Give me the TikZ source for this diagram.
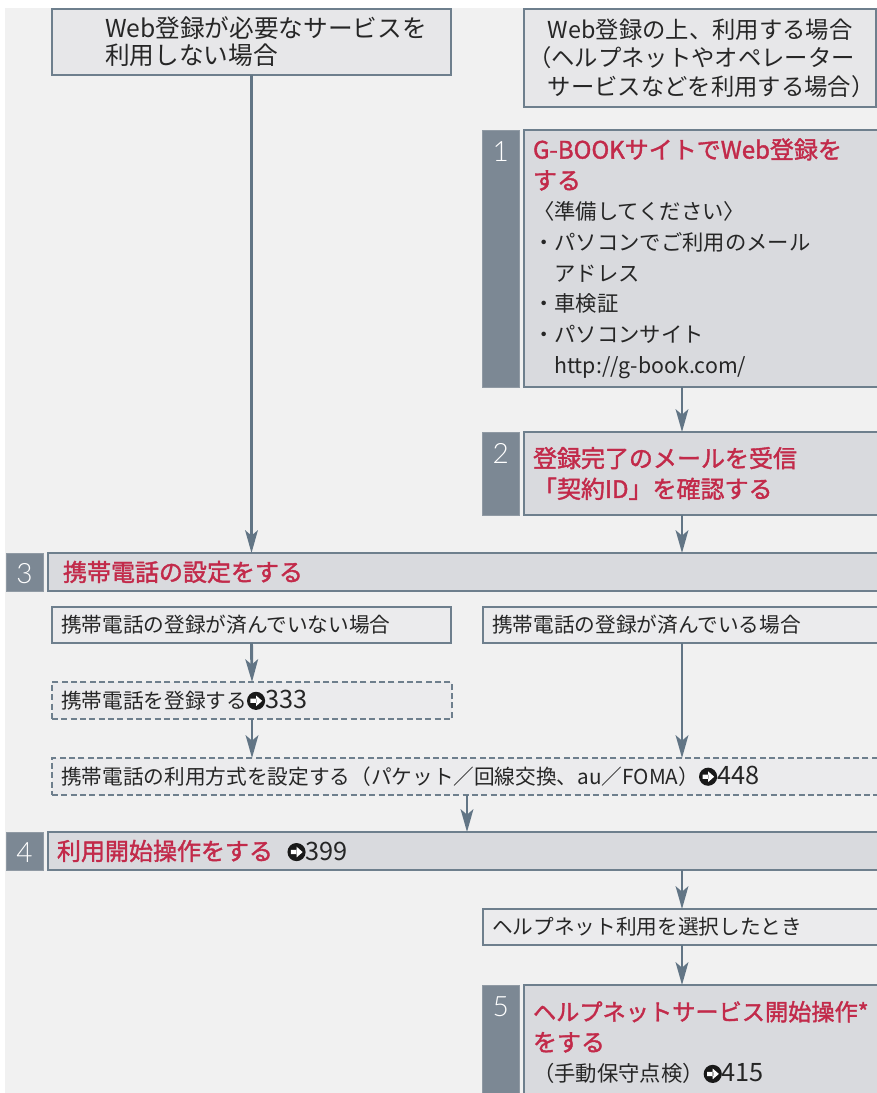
\documentclass[tikz,border=0pt]{standalone}
\usepackage{fontspec}
\setmainfont{Noto Sans CJK JP}
\newfontfamily\headfont{Noto Sans CJK JP}[FakeBold=1.6]
\newfontfamily\numfont{Lato}[UprightFont={* Light}]
\usetikzlibrary{arrows.meta, positioning}

\definecolor{pagebg}{HTML}{F1F1F1}
\definecolor{hdrfill}{HTML}{E7E7E9}
\definecolor{stepfill}{HTML}{D9DADE}
\definecolor{casefill}{HTML}{EBEBED}
\definecolor{edgecol}{HTML}{6E7F8D}
\definecolor{tabcol}{HTML}{7C8894}
\definecolor{arrcol}{HTML}{627585}
\definecolor{headred}{HTML}{C22A4A}

% page reference: black disc with a white arrow, then the page number
\newcommand{\refmark}{\tikz[baseline={(0,-6pt)}, x=1pt, y=1pt]{%
  \fill[black!90] (0,0) circle (6.8pt);
  \fill[white] (-4.2,-1.6) rectangle (0.4,1.6) (0,-4) -- (4.6,0) -- (0,4) -- cycle;}}
\newcommand{\seepage}[1]{\refmark{\fontsize{19}{19}\selectfont #1}}
\newcommand{\stephead}[1]{{\color{headred}\headfont\fontsize{18}{23}\selectfont #1}}

\begin{document}
\begin{tikzpicture}[x=0.75pt, y=-0.75pt,
    every node/.style={inner sep=0pt, outer sep=0pt, text=black!85},
    hdrbox/.style={draw=edgecol, fill=hdrfill, line width=1.2pt, anchor=north west, align=left},
    stepbox/.style={draw=edgecol, fill=stepfill, line width=1.2pt, anchor=north west, align=left,
                    inner xsep=6.75pt, font=\fontsize{16}{23}\selectfont},
    casebox/.style={draw=edgecol, fill=casefill, line width=1.2pt, anchor=north west, align=left,
                    inner xsep=6.75pt, minimum height=27pt, font=\fontsize{15.5}{18}\selectfont},
    dashbox/.style={casebox, line width=1.4pt, dash pattern=on 4.5pt off 2.5pt, minimum height=27.75pt},
    numtab/.style={fill=tabcol, draw=tabcol!85!white, line width=0.6pt, anchor=north west, minimum width=28pt},
    numtxt/.style={text=white, anchor=base, font=\numfont\fontsize{21}{21}\selectfont},
    arr/.style={draw=arrcol, line width=2.2pt, -{Stealth[length=17pt, width=9.5pt, inset=4pt]}}
]
\useasboundingbox (0,0) rectangle (877,1093);
\clip (0,0) rectangle (877,1093);
\fill[pagebg] (5,8) rectangle (877,1093);

% two starting cases
\node[hdrbox, minimum width=299.25pt, minimum height=49.5pt, inner xsep=39.75pt, text width=219.75pt,
      font=\fontsize{18.5}{20.25}\selectfont] (hdrL) at (52,9)
      {Web登録が必要なサービスを\\利用しない場合};
\node[hdrbox, minimum height=73.5pt, inner xsep=3pt, text width=258pt,
      font=\fontsize{17.5}{21.4}\selectfont] (hdrR) at (524,9)
      {\hspace*{0.85em}Web登録の上、利用する場合\\（ヘルプネットやオペレーター\\\hspace*{0.85em}サービスなどを利用する場合）};

% step 1
\node[numtab, minimum height=192.75pt] (t1) at (482,130) {};
\node[numtxt] (n1) at ([yshift=-23.25pt]t1.north) {1};
\node[stepbox, minimum height=192.75pt, text width=257.25pt] (s1) at (524,130)
      {\stephead{G-BOOKサイトでWeb登録を}\\\stephead{する}\\〈準備してください〉\\・パソコンでご利用のメール\\
       \hspace*{1em}アドレス\\・車検証\\・パソコンサイト\\\hspace*{1em}http://g-book.com/};

% step 2
\node[numtab, minimum height=62.25pt] (t2) at (482,432) {};
\node[numtxt] (n2) at ([yshift=-23.25pt]t2.north) {2};
\node[stepbox, minimum height=62.25pt, text width=257.25pt] (s2) at (524,432)
      {\stephead{登録完了のメールを受信}\\\stephead{「契約ID」を確認する}};

% step 3
\node[numtab, minimum width=27.75pt, minimum height=28.5pt] (t3) at (6,553) {};
\node[numtxt] (n3) at ([yshift=-22.5pt]t3.north) {3};
\node[stepbox, minimum height=28.5pt, inner xsep=11.25pt, text width=605.25pt] (bar3) at (48,553)
      {\stephead{携帯電話の設定をする}};

\node[casebox, text width=285.75pt] (caseL) at (52,607) {携帯電話の登録が済んでいない場合};
\node[casebox, text width=288pt] (caseR) at (483,607) {携帯電話の登録が済んでいる場合};
\node[dashbox, text width=286.5pt] (regist) at (52,682) {携帯電話を登録する\seepage{333}};
\node[dashbox, text width=611.25pt] (mode) at (52,758)
      {携帯電話の利用方式を設定する（パケット／回線交換、au／FOMA）\seepage{448}};

% step 4
\node[numtab, minimum width=27.75pt, minimum height=28.5pt] (t4) at (6,832) {};
\node[numtxt] (n4) at ([yshift=-22.5pt]t4.north) {4};
\node[stepbox, minimum height=28.5pt, text width=614.25pt, font=\fontsize{15.5}{18}\selectfont] (bar4) at (48,832)
      {\stephead{利用開始操作をする}\hspace{0.7em}\seepage{399}};

\node[casebox, text width=288pt] (help) at (483,909) {ヘルプネット利用を選択したとき};

% step 5
\node[numtab, minimum height=86.25pt] (t5) at (482,985) {};
\node[numtxt] (n5) at ([yshift=-23.25pt]t5.north) {5};
\node[stepbox, minimum height=86.25pt, text width=257.25pt] (s5) at (524,985)
      {{\color{headred}\headfont\fontsize{17.4}{23}\selectfont ヘルプネットサービス開始操作*}\\\stephead{をする}\\（手動保守点検）\seepage{415}};

% connectors
\coordinate (rcol) at (682,0);
\coordinate (mcol) at (467,0);
\draw[arr] (hdrL.south) -- (hdrL.south |- bar3.north);
\draw[arr] (s1.south -| rcol) -- (s2.north -| rcol);
\draw[arr] (s2.south -| rcol) -- (bar3.north -| rcol);
\draw[arr] (caseL.south) -- (regist.north);
\draw[arr] (regist.south) -- (mode.north -| regist.south);
\draw[arr] (caseR.south -| rcol) -- (mode.north -| rcol);
\draw[arr] (mode.south -| mcol) -- (bar4.north -| mcol);
\draw[arr] (bar4.south -| rcol) -- (help.north -| rcol);
\draw[arr] (help.south -| rcol) -- (s5.north -| rcol);
\end{tikzpicture}
\end{document}
